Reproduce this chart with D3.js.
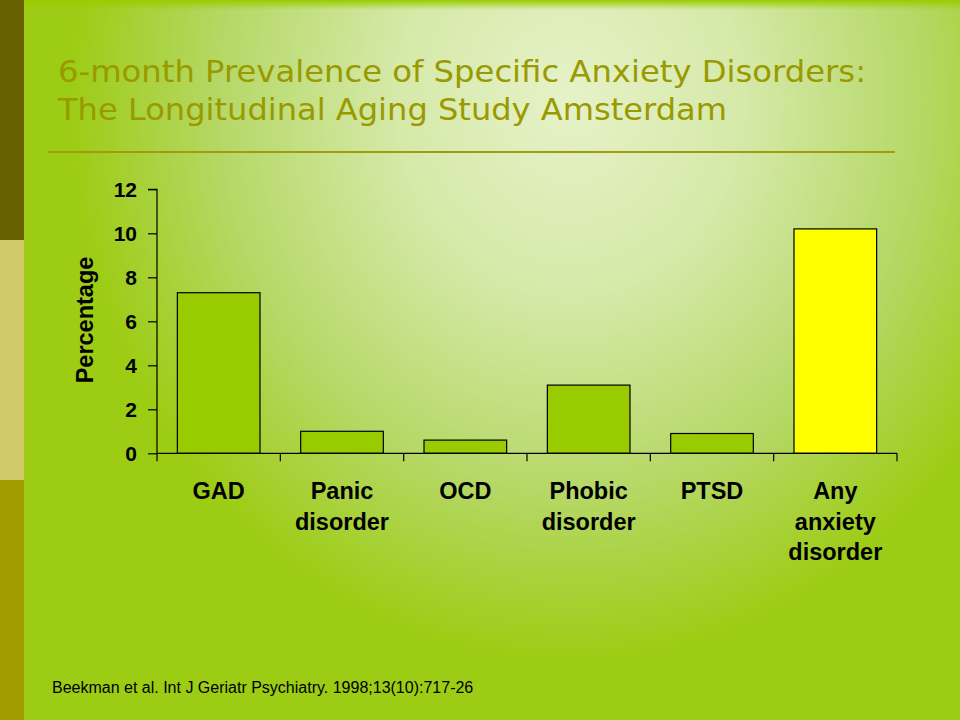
<!DOCTYPE html>
<html><head><meta charset="utf-8">
<script src="https://cdn.jsdelivr.net/npm/d3@7"></script>
<style>html,body{margin:0;padding:0;background:#fff}svg{display:block}</style>
</head><body>
<script>
const categories = [["GAD"], ["Panic", "disorder"], ["OCD"], ["Phobic", "disorder"], ["PTSD"], ["Any", "anxiety", "disorder"]];
const values = [7.3, 1.0, 0.6, 3.1, 0.9, 10.2];
const barColors = ["#99cc00", "#99cc00", "#99cc00", "#99cc00", "#99cc00", "#ffff00"];
const yTicks = [0, 2, 4, 6, 8, 10, 12];
const titleLines = ["6-month Prevalence of Specific Anxiety Disorders:", "The Longitudinal Aging Study Amsterdam"];
const yLabel = "Percentage";
const footer = "Beekman et al. Int J Geriatr Psychiatry. 1998;13(10):717-26";

const W = 960, H = 720;
const svg = d3.select("body").append("svg").attr("width", W).attr("height", H);
const defs = svg.append("defs");
const rg = defs.append("radialGradient").attr("id", "bg")
  .attr("gradientUnits", "userSpaceOnUse")
  .attr("cx", 570).attr("cy", 100).attr("r", 500)
  .attr("gradientTransform", "translate(570,100) scale(1,1.12) translate(-570,-100)");
rg.append("stop").attr("offset", "0").attr("stop-color", "#e6f2c8");
rg.append("stop").attr("offset", "0.35").attr("stop-color", "#d5e9a8");
rg.append("stop").attr("offset", "0.7").attr("stop-color", "#b5d866");
rg.append("stop").attr("offset", "1").attr("stop-color", "#9dcc14");

svg.append("rect").attr("width", W).attr("height", H).attr("fill", "#9dcc18");
svg.append("rect").attr("width", W).attr("height", H).attr("fill", "url(#bg)");
const tg = defs.append("linearGradient").attr("id", "topband").attr("x1", 0).attr("y1", 0).attr("x2", 0).attr("y2", 1);
tg.append("stop").attr("offset", "0").attr("stop-color", "#99cc00").attr("stop-opacity", 1);
tg.append("stop").attr("offset", "1").attr("stop-color", "#99cc00").attr("stop-opacity", 0);
svg.append("rect").attr("x", 0).attr("y", 0).attr("width", W).attr("height", 10).attr("fill", "url(#topband)");

// left strip
svg.append("rect").attr("x", 0).attr("y", 0).attr("width", 24).attr("height", 240).attr("fill", "#666000");
svg.append("rect").attr("x", 0).attr("y", 240).attr("width", 24).attr("height", 240).attr("fill", "#cfc96a");
svg.append("rect").attr("x", 0).attr("y", 480).attr("width", 24).attr("height", 240).attr("fill", "#a39c00");

// title
const titleWidths = [808, 669];
svg.append("g").selectAll("text").data(titleLines).join("text")
  .attr("x", 58).attr("y", (d, i) => 82 + i * 38)
  .attr("font-family", "DejaVu Sans, Verdana, sans-serif").attr("font-size", 30.5)
  .attr("textLength", (d, i) => titleWidths[i]).attr("lengthAdjust", "spacingAndGlyphs")
  .attr("fill", "#999a00").text(d => d);
svg.append("line").attr("x1", 48).attr("x2", 895).attr("y1", 152).attr("y2", 152)
  .attr("stroke", "#a29b10").attr("stroke-width", 2);

// chart
const x0 = 157, x1 = 897, yTop = 189.3, yBot = 453.3;
const x = d3.scaleBand().domain(d3.range(categories.length)).range([x0, x1]).paddingInner(0.33).paddingOuter(0.165);
const y = d3.scaleLinear().domain([0, 12]).range([yBot, yTop]);

const g = svg.append("g");
g.selectAll("rect.bar").data(values).join("rect").attr("class", "bar")
  .attr("x", (d, i) => x(i)).attr("width", x.bandwidth())
  .attr("y", d => y(d)).attr("height", d => y(0) - y(d))
  .attr("fill", (d, i) => barColors[i]).attr("stroke", "#000").attr("stroke-width", 1.2);

const yAxis = g.append("g").attr("transform", `translate(${x0},0)`)
  .call(d3.axisLeft(y).tickValues(yTicks).tickSize(9).tickPadding(11).tickFormat(d3.format("d")));
yAxis.select(".domain").attr("stroke", "#000").attr("stroke-width", 1.2).attr("d", `M-9,${y(12)}H0V${y(0)}`);
yAxis.selectAll(".tick line").attr("stroke", "#000").attr("stroke-width", 1.2);
yAxis.selectAll(".tick text").attr("font-family", "Liberation Sans, Arial, sans-serif")
  .attr("font-weight", "bold").attr("font-size", 21).attr("fill", "#000");

// x axis line and boundary ticks
const step = x.step();
const bounds = d3.range(categories.length + 1).map(i => x0 + i * step);
g.append("line").attr("x1", x0).attr("x2", x1).attr("y1", yBot).attr("y2", yBot).attr("stroke", "#000").attr("stroke-width", 1.2);
g.selectAll("line.xt").data(bounds).join("line").attr("class", "xt")
  .attr("x1", d => d).attr("x2", d => d).attr("y1", yBot).attr("y2", yBot + 8)
  .attr("stroke", "#000").attr("stroke-width", 1.2);

// category labels
const lab = g.selectAll("text.cat").data(categories).join("text").attr("class", "cat")
  .attr("font-family", "Liberation Sans, Arial, sans-serif").attr("font-weight", "bold")
  .attr("font-size", 23.5).attr("text-anchor", "middle").attr("fill", "#000");
lab.selectAll("tspan").data((d, i) => d.map(s => ({ s, i }))).join("tspan")
  .attr("x", d => x(d.i) + x.bandwidth() / 2).attr("y", (d, j) => 499 + j * 30.5).text(d => d.s);

// y label
svg.append("text").attr("transform", "translate(93,320) rotate(-90)")
  .attr("text-anchor", "middle").attr("font-family", "Liberation Sans, Arial, sans-serif")
  .attr("font-weight", "bold").attr("font-size", 23.5).attr("fill", "#000").text(yLabel);

// footer
svg.append("text").attr("x", 52).attr("y", 693).attr("font-family", "Liberation Sans, Arial, sans-serif")
  .attr("font-size", 16).attr("fill", "#000").text(footer);
</script>
</body></html>
